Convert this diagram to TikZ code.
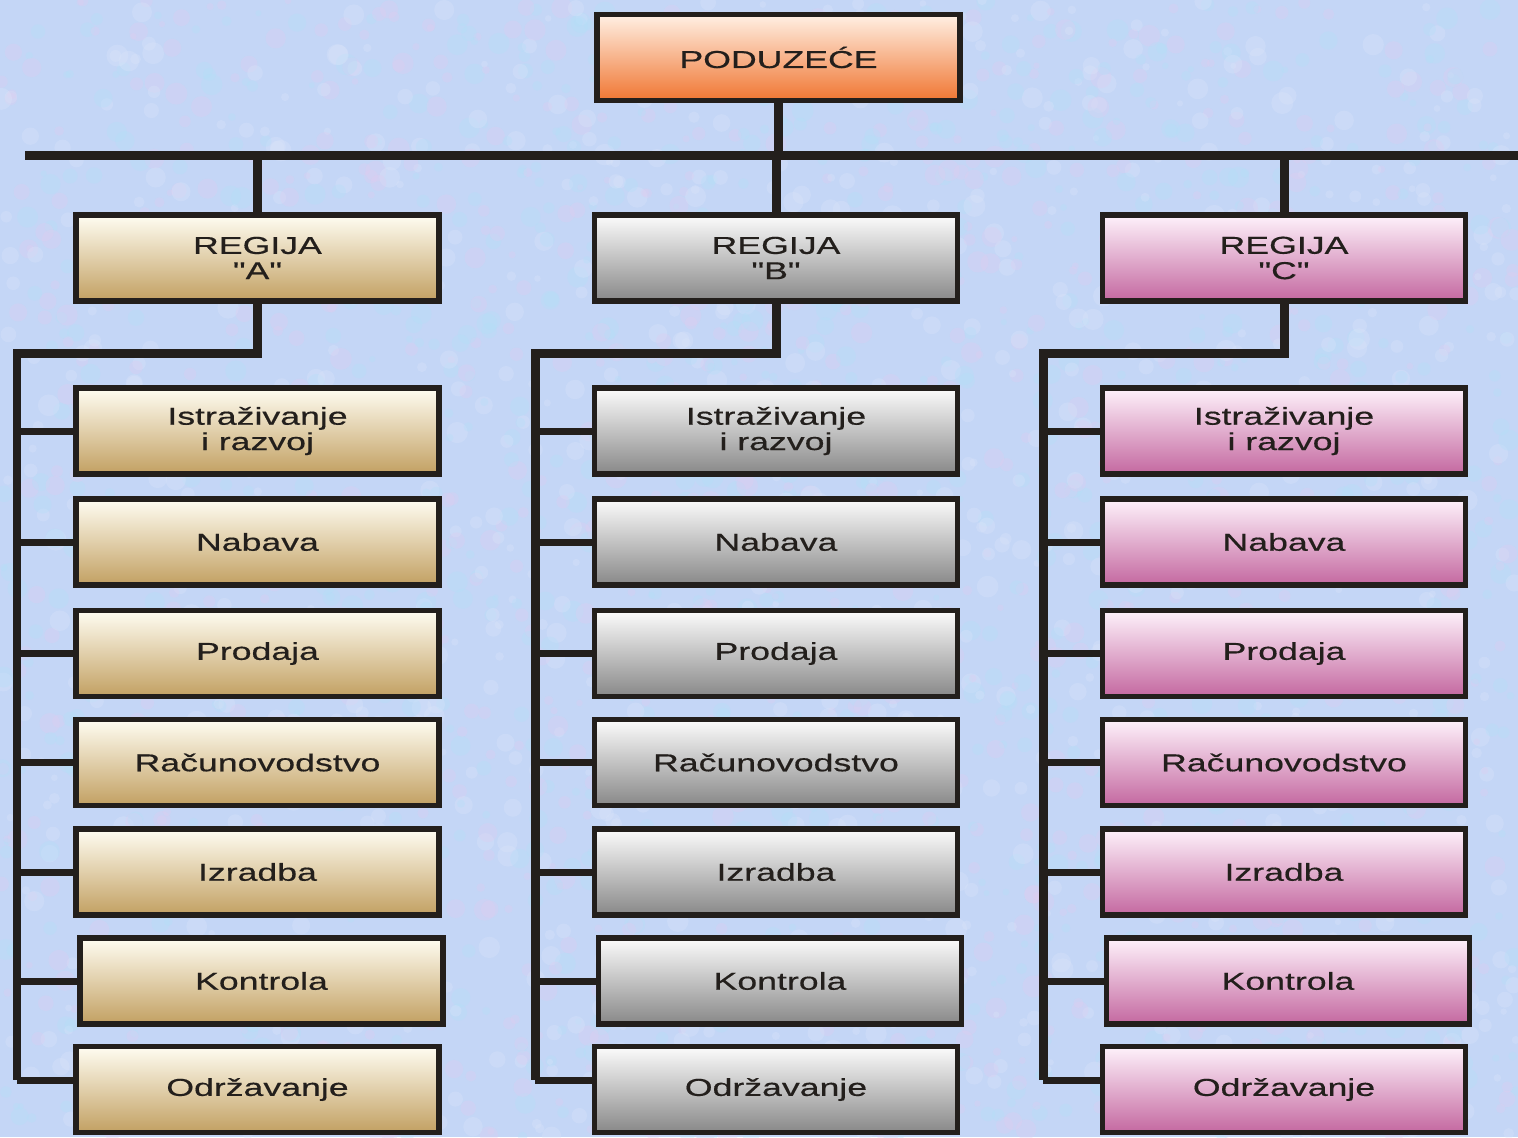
\documentclass[tikz,border=0pt]{standalone}
\usepackage{fontspec}
\setmainfont{Liberation Sans}[FakeStretch=1.46, FakeBold=0.5, Ligatures=TeXOff]
\begin{document}
\begin{tikzpicture}[x=0.02cm,y=-0.02cm,
  ink/.style={draw={rgb,255:red,35;green,31;blue,28}},
  box/.style={ink, line width=0.11cm, minimum width=7.26cm, minimum height=1.72cm,
    inner sep=0pt, align=center, text={rgb,255:red,35;green,31;blue,28},
    font=\fontsize{13.9}{14.4}\selectfont, shading=axis},
  boxA/.style={box, top color=tanTop, bottom color=tanBot},
  boxB/.style={box, top color=greyTop, bottom color=greyBot},
  boxC/.style={box, top color=pinkTop, bottom color=pinkBot},
  boxT/.style={box, top color=orTop, bottom color=orBot},
  bus/.style={ink, line width=0.18cm},
  stub/.style={ink, line width=0.14cm}]
\definecolor{tanTop}{RGB}{255,253,242}
\definecolor{tanBot}{RGB}{194,160,98}
\definecolor{greyTop}{RGB}{252,252,252}
\definecolor{greyBot}{RGB}{136,136,136}
\definecolor{pinkTop}{RGB}{254,242,251}
\definecolor{pinkBot}{RGB}{196,104,160}
\definecolor{orTop}{RGB}{255,240,228}
\definecolor{orBot}{RGB}{240,118,50}
\definecolor{paper}{RGB}{196,214,246}
\definecolor{blotchP}{RGB}{224,204,240}
\definecolor{blotchC}{RGB}{178,224,248}
\definecolor{blotchW}{RGB}{220,230,250}

\useasboundingbox (0,0) rectangle (1518,1137);
\clip (0,0) rectangle (1518,1137);
\fill[paper] (0,0) rectangle (1518,1137);

% fine mottled paper texture
\pgfmathsetseed{7}
\foreach \k in {1,...,3200} {
  \pgfmathsetmacro{\px}{rnd*1518}
  \pgfmathsetmacro{\py}{rnd*1137}
  \pgfmathsetmacro{\pr}{3+rnd*8}
  \pgfmathtruncatemacro{\pc}{int(rnd*3)}
  \ifcase\pc
    \fill[blotchP, opacity=0.3] (\px,\py) circle[radius=\pr];
  \or
    \fill[blotchC, opacity=0.3] (\px,\py) circle[radius=\pr];
  \else
    \fill[blotchW, opacity=0.3] (\px,\py) circle[radius=\pr];
  \fi
}

% top of the hierarchy
\node[boxT] (top) at (778.5,57.5) {PODUZEĆE};

% regions
\node[boxA] (rA) at (257.5,258) {REGIJA\\"A"};
\node[boxB] (rB) at (776,258) {REGIJA\\"B"};
\node[boxC] (rC) at (1284,258) {REGIJA\\"C"};

% departments per region
\foreach \c/\x/\st in {A/257.5/boxA, B/776/boxB, C/1284/boxC} {
  \node[\st] (i\c) at (\x,431) {Istraživanje\\i razvoj};
  \node[\st] (n\c) at (\x,542) {Nabava};
  \node[\st] (p\c) at (\x,653.5) {Prodaja};
  \node[\st] (u\c) at (\x,762.5) {Računovodstvo};
  \node[\st] (z\c) at (\x,872) {Izradba};
  \node[\st] (k\c) at (\x+4,981) {Kontrola};
  \node[\st] (o\c) at (\x,1089.5) {Održavanje};
}

% main horizontal bus
\coordinate (busL) at (25,155);
\coordinate (busR) at (1518,155);
\draw[bus] (busL) -- (busR);
\draw[bus] (top.south) -- (top.south |- busL);
\foreach \r in {rA,rB,rC}
  \draw[bus] (\r.north |- busL) -- (\r.north);

% spines of each region
\coordinate (sA) at (17,353);   \coordinate (eA) at (17,1080);
\coordinate (sB) at (535,353);  \coordinate (eB) at (535,1080);
\coordinate (sC) at (1043,353); \coordinate (eC) at (1043,1080);

\foreach \c in {A,B,C} {
  \draw[bus, line join=miter] (r\c.south) |- (s\c) -- (e\c);
  \draw[stub] (e\c) -- (e\c -| o\c.west);
  \foreach \d in {i,n,p,u,z,k}
    \draw[stub] (s\c |- \d\c.west) -- (\d\c.west);
}
\end{tikzpicture}
\end{document}
